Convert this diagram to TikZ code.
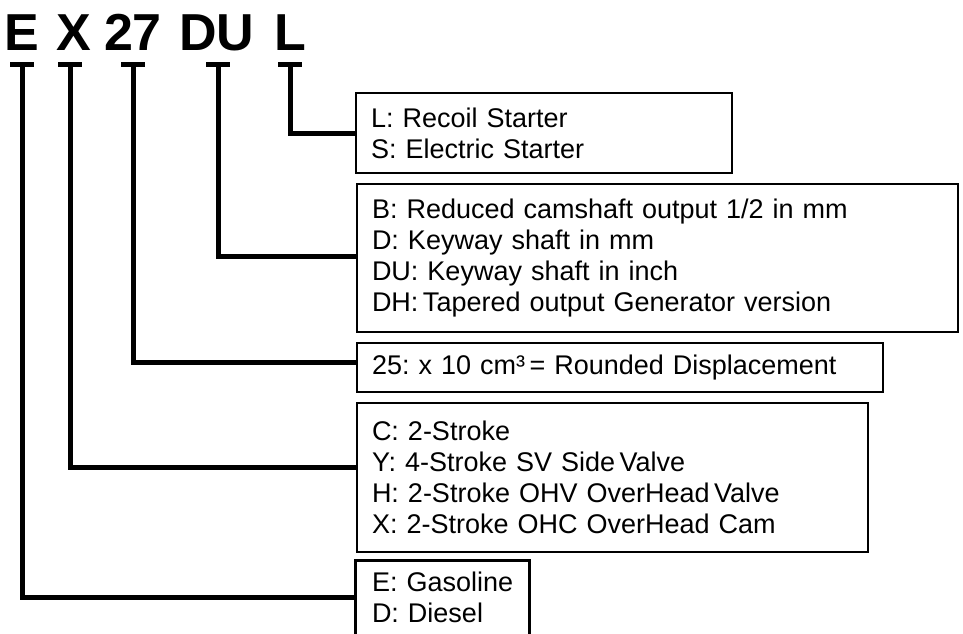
\documentclass[tikz,border=0pt]{standalone}
\usepackage{fontspec}
\setmainfont{Liberation Sans}
\begin{document}
\frenchspacing
\begin{tikzpicture}[x=1pt,y=-1pt,
  title/.style={font=\fontsize{52}{56}\selectfont\bfseries, inner sep=0pt, anchor=base},
  tbar/.style={fill=black, inner sep=0pt, minimum width=24pt, minimum height=5pt},
  infobox/.style={line width=2.7pt, inner xsep=15pt, inner ysep=0pt, align=left,
                  font=\fontsize{27}{31}\selectfont,
                  execute at begin node={\frenchspacing\hyphenpenalty=10000\exhyphenpenalty=10000}},
  conn/.style={line width=5pt}]
\useasboundingbox (0,0) rectangle (963,633);
\fill[white] (0,0) rectangle (963,633);

% title letters
\node[title] (tE)  at (22,50)  {E};
\node[title] (tX)  at (74,50)  {X};
\node[title] (t27) at (133,50) {27};
\node[title] (tDU) at (217,50) {DU};
\node[title] (tL)  at (290,50) {L};

% T-bars under the letters
\node[tbar] (bE)  at (22,64.5)  {};
\node[tbar] (bX)  at (70,64.5)  {};
\node[tbar] (b27) at (133,64.5) {};
\node[tbar] (bDU) at (218,64.5) {};
\node[tbar] (bL)  at (290,64.5) {};

% boxes
\node[infobox, draw, minimum width=376pt, minimum height=80pt, text width=346pt] (boxL) at (544,133)
  {L: Recoil Starter\\S: Electric Starter};
\node[infobox, draw, minimum width=601pt, minimum height=148pt, text width=571pt] (boxDU) at (657.5,258)
  {B: Reduced camshaft output 1/2 in mm\\D: Keyway shaft in mm\\DU: Keyway shaft in inch\\DH:\,Tapered output Generator version};
\node[infobox, draw, minimum width=526pt, minimum height=49pt, text width=496pt] (box27) at (620,367.5)
  {25: x 10 cm³\,= Rounded Displacement};
\node[infobox, draw, minimum width=511pt, minimum height=149pt, text width=481pt] (boxX) at (612.5,477.5)
  {C: 2-Stroke\\Y: 4-Stroke SV Side\,Valve\\H: 2-Stroke OHV OverHead\,Valve\\X: 2-Stroke OHC OverHead Cam};
\node[infobox, minimum width=171pt, minimum height=71pt, text width=141pt] (boxE) at (442.5,597.5)
  {\mbox{E: Gasoline}\\\mbox{D: Diesel}};
\draw[line width=2.7pt] (boxE.south west) -- (boxE.north west) -- (boxE.north east) -- (boxE.south east);

% connectors
\draw[conn] (bL)  |- (boxL.west);
\draw[conn] (bDU) |- ([yshift=2pt]boxDU.west);
\draw[conn] (b27) |- ([yshift=5.5pt]box27.west);
\draw[conn] (bX)  |- ([yshift=10.5pt]boxX.west);
\draw[conn] (bE)  |- (boxE.west);
\end{tikzpicture}
\end{document}
